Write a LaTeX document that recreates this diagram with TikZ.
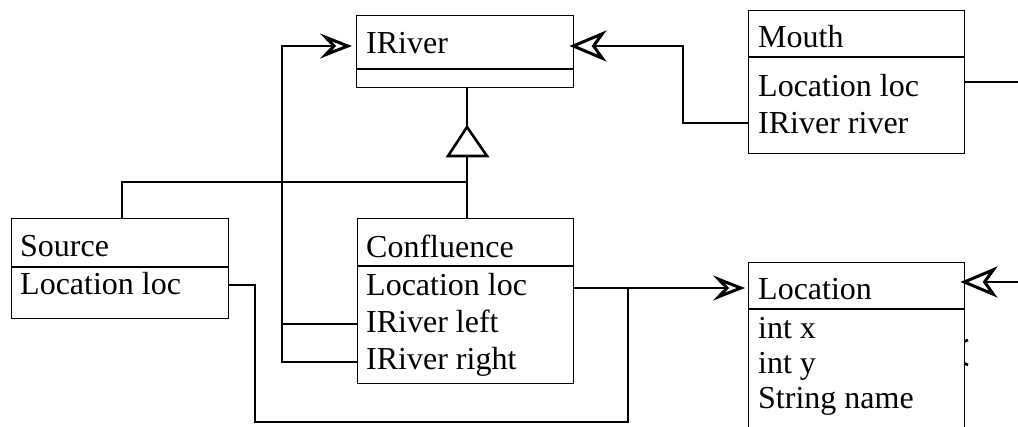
\documentclass[tikz,border=0pt]{standalone}
\usepackage{fontspec}
\setmainfont{Liberation Serif}
\usetikzlibrary{arrows.meta}
\begin{document}
\begin{tikzpicture}[x=1pt,y=-1pt,
  umlbox/.style={draw, line width=1.4pt, fill=white, inner sep=0pt, anchor=north west},
  lbl/.style={anchor=base west, inner sep=0pt, font=\fontsize{32}{38}\selectfont},
  rule/.style={line width=1.4pt},
  conn/.style={line width=1.3pt},
  headR/.tip={Stealth[open, length=32pt, width=25pt, inset=12pt, line width=3pt]},
  headL/.tip={Stealth[open, length=37pt, width=31pt, inset=11pt, line width=3pt]},
  assocR/.style={conn, -headR},
  assocL/.style={conn, -headL},
  gen/.style={line width=2.6pt, line join=miter},
  stub/.style={line width=2.6pt}
]
\useasboundingbox (0,0) rectangle (1018,426);

% arrowhead partly hidden under the Location class
\coordinate (hid) at (940,352);
\draw[stub] (hid) -- (968,340) (hid) -- (968,365);

% classes
\node[umlbox, minimum width=217pt, minimum height=72pt] (iriver) at (356,15) {};
\node[umlbox, minimum width=216pt, minimum height=143pt] (mouth) at (748,10) {};
\node[umlbox, minimum width=217pt, minimum height=100pt] (source) at (11,218) {};
\node[umlbox, minimum width=216pt, minimum height=165pt] (conf) at (357,218) {};
\node[umlbox, minimum width=216pt, minimum height=180pt] (loc) at (748,262) {};

% compartment rules
\draw[rule] (iriver.west |- 0,69) -- (iriver.east |- 0,69);
\draw[rule] (mouth.west |- 0,57) -- (mouth.east |- 0,57);
\draw[rule] (source.west |- 0,267) -- (source.east |- 0,267);
\draw[rule] (conf.west |- 0,266) -- (conf.east |- 0,266);
\draw[rule] (loc.west |- 0,309) -- (loc.east |- 0,309);

% texts
\node[lbl] (tIRiver) at (366,53) {IRiver};
\node[lbl] (tMouth) at (758,47) {Mouth};
\node[lbl] (tMouthLoc) at (758,96) {Location loc};
\node[lbl] (tMouthRiv) at (758,133) {IRiver river};
\node[lbl] (tSource) at (20,256) {Source};
\node[lbl] (tSourceLoc) at (20,294) {Location loc};
\node[lbl] (tConf) at (366,257) {Confluence};
\node[lbl] (tConfLoc) at (366,295) {Location loc};
\node[lbl] (tConfL) at (366,332) {IRiver left};
\node[lbl] (tConfR) at (366,369) {IRiver right};
\node[lbl] (tLoc) at (758,299) {Location};
\node[lbl] (tLocX) at (758,338) {int x};
\node[lbl] (tLocY) at (758,373) {int y};
\node[lbl] (tLocN) at (758,408) {String name};

% generalisation: Confluence and Source realise IRiver
\coordinate (apex) at (467,127);
\coordinate (base) at (467,156);
\draw[gen] (apex) -- (487,156) -- (448,156) -- cycle;
\draw[conn] (iriver.south -| apex) -- (apex);
\draw[conn] (base) -- (conf.north -| base);
\draw[conn] (467,182) -- (122,182) -- (source.north -| 122,0);

% Confluence left / right -> IRiver
\draw[conn] (conf.west |- 0,324) -- (282,324);
\draw[assocR, shorten >=4pt] (conf.west |- 0,362) -- (282,362) -- (282,46) -- (iriver.west |- 0,46);

% Mouth river -> IRiver
\draw[assocL, shorten >=-5pt] (mouth.west |- 0,123) -- (683,123) -- (683,46) -- (iriver.east |- 0,46);

% Mouth loc continues to the right
\coordinate (mouthOut) at (1030,82);
\draw[conn] (mouth.east |- 0,82) -- (mouthOut);

% Confluence loc and Source loc -> Location
\draw[assocR, shorten >=3pt] (conf.east |- 0,288) -- (628,288) -- (loc.west |- 0,288);
\draw[conn] (source.east |- 0,285) -- (255,285) -- (255,422) -- (628,422) -- (628,288);

% incoming association on the right of Location
\coordinate (locIn) at (1030,282);
\draw[assocL, shorten >=-5pt] (locIn) -- (loc.east |- 0,282);
\end{tikzpicture}
\end{document}
